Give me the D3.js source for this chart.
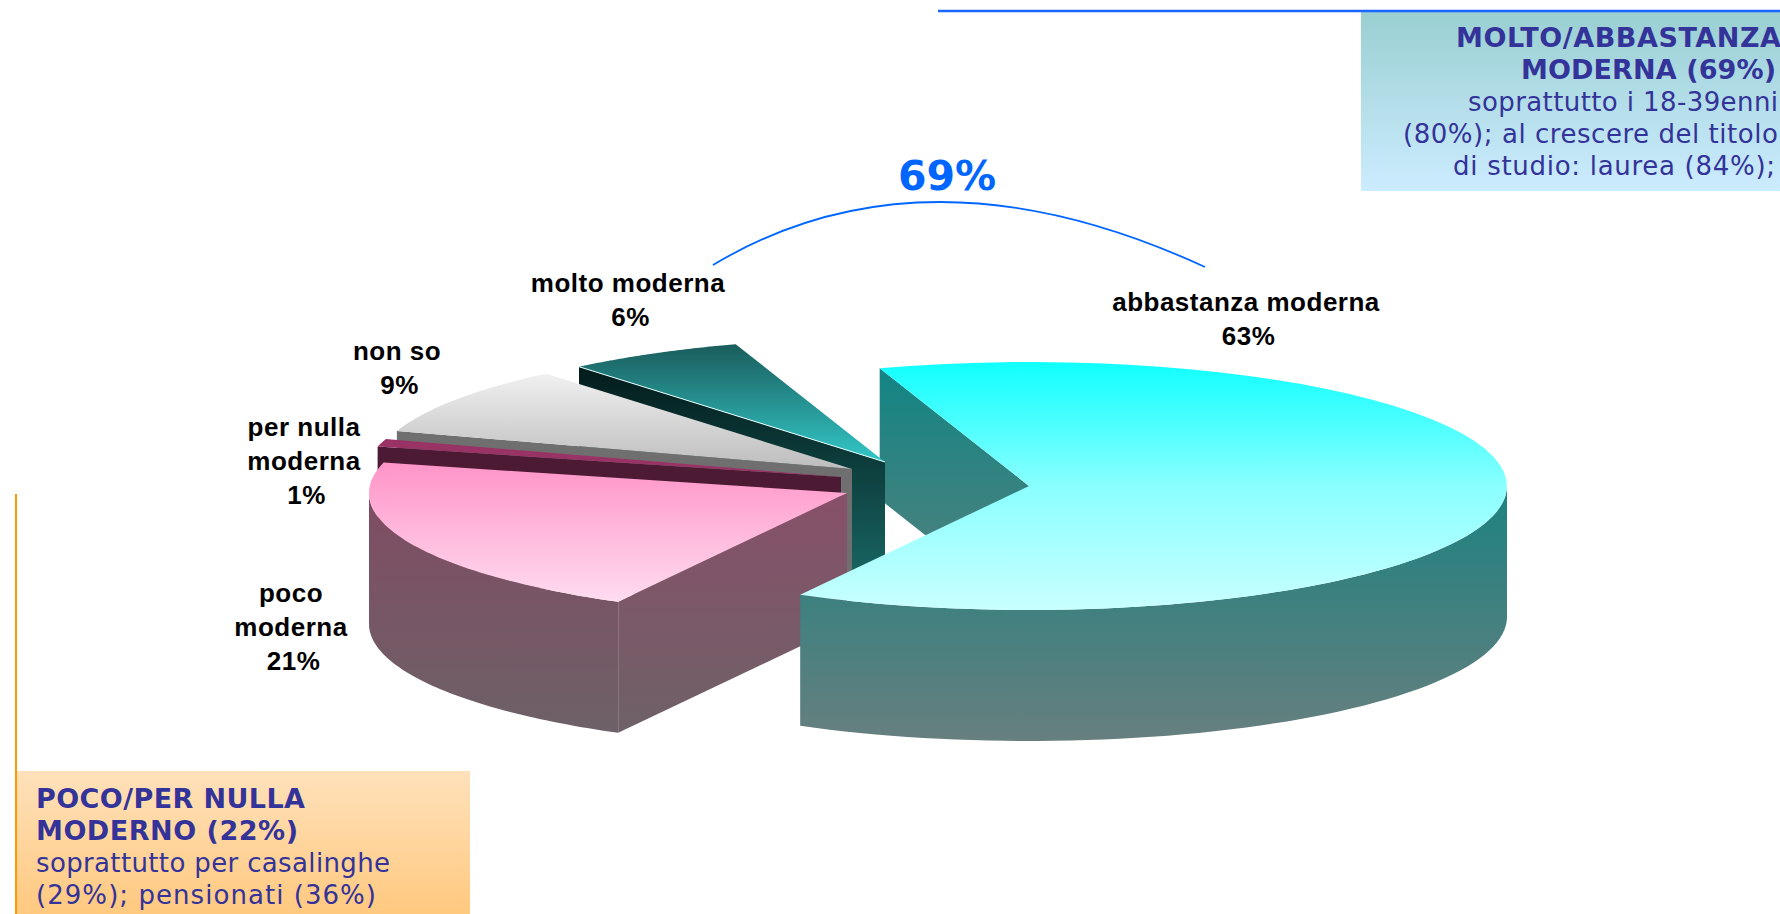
<!DOCTYPE html>
<html lang="it">
<head>
<meta charset="utf-8">
<title>Moderna</title>
<script src="https://cdn.jsdelivr.net/npm/d3@7"></script>
<style>
  html, body { margin: 0; padding: 0; background: #fff; }
  svg { display: block; }
  .slice-label { font: bold 26px "Liberation Sans", Arial, sans-serif; letter-spacing: 0.5px; fill: #000; text-anchor: middle; }
  .note { font-family: "DejaVu Sans", Verdana, sans-serif; font-size: 26px; fill: #333399; }
  .note.head { font-size: 27px; font-weight: bold; }
</style>
</head>
<body>
<svg id="chart" width="1780" height="914" viewBox="0 0 1780 914"></svg>
<script>
// Survey answers, in pie order (clockwise from the large slice)
const categories = ["abbastanza moderna", "poco moderna", "per nulla moderna", "non so", "molto moderna"];
const values = [63, 21, 1, 9, 6];
const labelLines = [
  ["abbastanza moderna", "63%"],
  ["poco", "moderna", "21%"],
  ["per nulla", "moderna", "1%"],
  ["non so", "9%"],
  ["molto moderna", "6%"]
];
const bracketTotal = "69%";
const highNote = ["MOLTO/ABBASTANZA", "MODERNA (69%)", "soprattutto i 18-39enni", "(80%); al crescere del titolo", "di studio: laurea (84%);"];
const lowNote = ["POCO/PER NULLA", "MODERNO (22%)", "soprattutto per casalinghe", "(29%); pensionati (36%)"];

// Pie geometry: every slice is pulled out to its own apex
const apexes = [[1029, 486], [847, 493], [841, 477], [852, 469], [885, 462]];
const labelAnchors = [[1246, 311], [291, 602], [304, 436], [397, 360], [628, 292]];
const radiusX = 478, radiusY = 124, depth = 131, linePitch = 34;
const firstAngle = -18.2 * Math.PI / 180;

// Note line layout: right edges and set widths of the upper note, set widths of the lower one
const highNoteEnds = [1781, 1776, 1778, 1778, 1775];
const highNoteWidths = [325, 255, 310, 375, 322];
const lowNoteWidths = [269, 262, 354, 340];

const palette = [
  { top: ["#10ffff", "#8affff", "#c9ffff"], wall: ["#1c8280", "#677f7f"], face: ["#128583", "#5b807e"] },
  { top: ["#ff94c8", "#ffdcef"], wall: ["#804c63", "#6d6167"], face: ["#875069", "#6e6167"] },
  { top: ["#993366", "#993366"], wall: ["#4d1a34", "#4d1a34"], face: ["#4d1a34", "#4d1a34"] },
  { top: ["#f0f0f0", "#bdbdbd"], wall: ["#6f6f6f", "#6f6f6f"], face: ["#6f6f6f", "#6f6f6f"] },
  { top: ["#1a5c5c", "#33c8c8"], wall: ["#031b1b", "#1a6b69"], face: ["#031b1b", "#1a6b69"] }
];

const svg = d3.select("#chart");
const defs = svg.append("defs");

function verticalGradient(id, stops) {
  const g = defs.append("linearGradient").attr("id", id)
    .attr("x1", 0).attr("y1", 0).attr("x2", 0).attr("y2", 1);
  stops.forEach((c, k) => g.append("stop")
    .attr("offset", k / (stops.length - 1)).attr("stop-color", c));
  return `url(#${id})`;
}

const pie = d3.pie().sort(null).startAngle(firstAngle).endAngle(firstAngle + 2 * Math.PI);
const slices = pie(values).map((d, i) => ({ ...d, i, apex: apexes[i], name: categories[i] }));

// A point on the slice's rim, with 0 at twelve o'clock and angles running clockwise
const rim = (s, a, drop = 0) => [
  s.apex[0] + radiusX * Math.sin(a),
  s.apex[1] - radiusY * Math.cos(a) + drop
];
const polygon = d3.line().curve(d3.curveLinearClosed);
const steps = (a0, a1) => d3.range(0, 61).map(k => a0 + (a1 - a0) * k / 60);

function topFace(s) {
  return polygon([s.apex, ...steps(s.startAngle, s.endAngle).map(a => rim(s, a))]);
}
function startFace(s) {
  return polygon([
    s.apex, rim(s, s.startAngle), rim(s, s.startAngle, depth), [s.apex[0], s.apex[1] + depth]
  ]);
}
function outerWall(s) {
  const a0 = Math.max(s.startAngle, Math.PI / 2);
  const a1 = Math.min(s.endAngle, 3 * Math.PI / 2);
  if (a1 <= a0) return null;
  const arc = steps(a0, a1);
  return polygon([...arc.map(a => rim(s, a)), ...arc.reverse().map(a => rim(s, a, depth))]);
}

const pieLayer = svg.append("g").attr("class", "pie");
const drawSlicePart = (d, id, stops, name) => pieLayer.append("path")
  .attr("class", name).attr("d", d).attr("fill", verticalGradient(id, stops));

// Painted back to front: the big slice's hidden cut goes first, its body last
const big = slices[0];
drawSlicePart(startFace(big), "face-0", palette[0].face, "cut");
[4, 3, 2, 1, 0].forEach(i => {
  const s = slices[i];
  if (i !== 0) drawSlicePart(startFace(s), `face-${i}`, palette[i].face, "cut");
  const wall = outerWall(s);
  if (wall) drawSlicePart(wall, `wall-${i}`, palette[i].wall, "wall");
  drawSlicePart(topFace(s), `top-${i}`, palette[i].top, "top");
});

// Thin highlight along the front edge of the smallest teal slice
const teal = slices[4];
pieLayer.append("path")
  .attr("d", d3.line()([teal.apex, rim(teal, teal.startAngle)]))
  .attr("stroke", "#e6ffff").attr("stroke-width", 1).attr("fill", "none");

// Slice labels; the percentage line sits slightly right of the name
const labels = svg.append("g").selectAll("text").data(slices).join("text")
  .attr("class", "slice-label")
  .attr("y", d => labelAnchors[d.i][1]);
labels.selectAll("tspan")
  .data(d => labelLines[d.i].map((t, k, all) => ({
    t, k, x: labelAnchors[d.i][0] + (k === all.length - 1 ? 2.5 : 0)
  })))
  .join("tspan")
  .attr("x", d => d.x)
  .attr("dy", d => d.k === 0 ? 0 : linePitch)
  .text(d => d.t);

// Bracket over the two positive answers
const bracket = d3.path();
bracket.moveTo(713, 265);
bracket.quadraticCurveTo(925, 138, 1205, 267);
svg.append("path")
  .attr("d", bracket.toString())
  .attr("fill", "none").attr("stroke", "#0066ff").attr("stroke-width", 1.8);
svg.append("text")
  .attr("x", 947).attr("y", 190).attr("text-anchor", "middle")
  .attr("font-family", '"DejaVu Sans", Verdana, sans-serif')
  .attr("font-weight", "bold").attr("font-size", 41).attr("fill", "#0066ff")
  .text(bracketTotal);

// Upper-right note
svg.append("rect").attr("x", 1361).attr("y", 11).attr("width", 419).attr("height", 180)
  .attr("fill", verticalGradient("high-note", ["#99cfd1", "#ccecff"]));
svg.append("line").attr("x1", 938).attr("x2", 1780).attr("y1", 11).attr("y2", 11)
  .attr("stroke", "#1a66ff").attr("stroke-width", 2.5);
svg.append("g").selectAll("text").data(highNote).join("text")
  .attr("class", (d, i) => i < 2 ? "note head" : "note")
  .attr("x", (d, i) => highNoteEnds[i]).attr("y", (d, i) => 47 + i * 32)
  .attr("text-anchor", "end")
  .attr("textLength", (d, i) => highNoteWidths[i]).attr("lengthAdjust", "spacing")
  .text(d => d);

// Lower-left note
svg.append("rect").attr("x", 17).attr("y", 771).attr("width", 453).attr("height", 143)
  .attr("fill", verticalGradient("low-note", ["#ffe1bb", "#ffc97f"]));
svg.append("line").attr("x1", 16).attr("x2", 16).attr("y1", 494).attr("y2", 914)
  .attr("stroke", "#ff9900").attr("stroke-width", 2);
svg.append("g").selectAll("text").data(lowNote).join("text")
  .attr("class", (d, i) => i < 2 ? "note head" : "note")
  .attr("x", 36).attr("y", (d, i) => 808 + i * 32)
  .attr("textLength", (d, i) => lowNoteWidths[i]).attr("lengthAdjust", "spacing")
  .text(d => d);
</script>
</body>
</html>
